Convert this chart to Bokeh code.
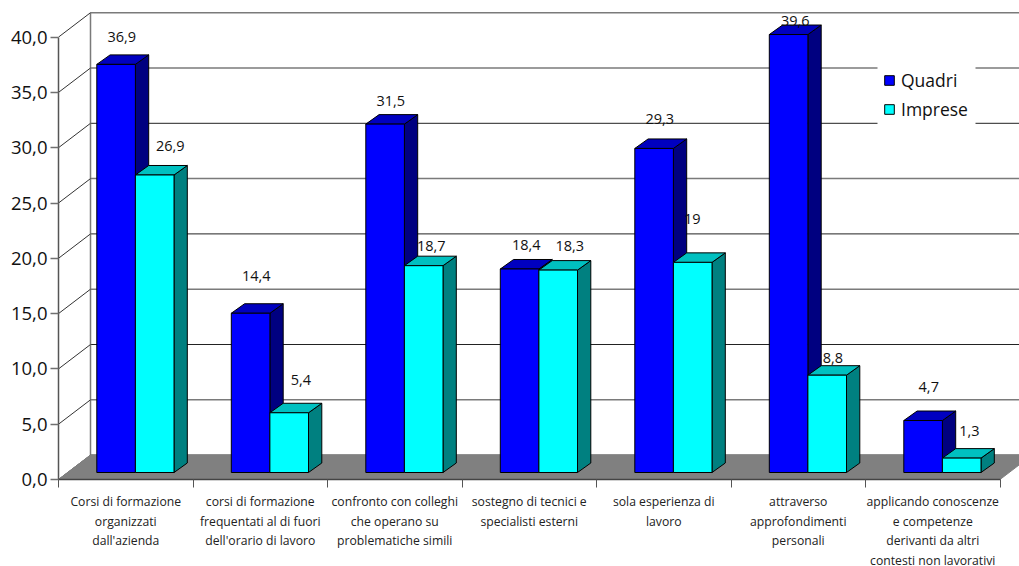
from bokeh.embed import file_html
from bokeh.models import FixedTicker, Legend, LegendItem, LinearAxis, Range1d
from bokeh.plotting import figure
from bokeh.resources import INLINE
from bokeh.core.properties import value

categories = [
    ["Corsi di formazione", "organizzati", "dall'azienda"],
    ["corsi di formazione", "frequentati al di fuori", "dell'orario di lavoro"],
    ["confronto con colleghi", "che operano su", "problematiche simili"],
    ["sostegno di tecnici e", "specialisti esterni"],
    ["sola esperienza di", "lavoro"],
    ["attraverso", "approfondimenti", "personali"],
    ["applicando conoscenze", "e competenze", "derivanti da altri", "contesti non lavorativi"],
]
quadri = [36.9, 14.4, 31.5, 18.4, 29.3, 39.6, 4.7]
imprese = [26.9, 5.4, 18.7, 18.3, 19, 8.8, 1.3]
quadri_labels = ["36,9", "14,4", "31,5", "18,4", "29,3", "39,6", "4,7"]
imprese_labels = ["26,9", "5,4", "18,7", "18,3", "19", "8,8", "1,3"]
y_ticks = [0, 5, 10, 15, 20, 25, 30, 35, 40]
y_tick_labels = ["0,0", "5,0", "10,0", "15,0", "20,0", "25,0", "30,0", "35,0", "40,0"]

# Label nudges in screen pixels (x, y above the top of the bar)
quadri_nudge = [(-1, 18), (-1, 28), (-1, 14), (0, 14), (-1, 20), (0, 4), (-1, 24)]
imprese_nudge = [(9, 19), (5, 23), (1, 10), (5, 15), (-7, 34), (-1, 8), (1, 18)]

# Oblique projection, in axis units
PX_X = 134.5
PX_Y = 11.06
WALL_DX = 32 / PX_X
WALL_DY = 24.4 / PX_Y
BAR_DX = 13.3 / PX_X
BAR_DY = 9.5 / PX_Y
BAR_BASE = 7 / PX_Y
BAR_LEFT = 38.3 / PX_X
BAR_W = 38.6 / PX_X

W, H = 1019, 566
ORIGIN_X, ORIGIN_Y = 58, 479  # screen position of the axes' crossing

# The plotting frame fills the page so that text below the axis is not clipped
p = figure(
    width=W, height=H, output_backend="svg", toolbar_location=None,
    x_range=Range1d(-ORIGIN_X / PX_X, (W - ORIGIN_X) / PX_X),
    y_range=Range1d(-(H - ORIGIN_Y) / PX_Y, ORIGIN_Y / PX_Y),
    x_axis_type=None, y_axis_type=None,
    min_border_left=0, min_border_right=0, min_border_top=0, min_border_bottom=0,
    outline_line_color=None, background_fill_color="white", border_fill_color="white",
)
p.grid.visible = False

n = len(categories)
x_end = n + WALL_DX + 0.1
top = y_ticks[-1] + WALL_DY

# Back wall lines and the side wall's diagonals
grid_colors = ["#7a7a7a", "#7a7a7a", "#222222", "#7a7a7a", "#222222", "#7a7a7a", "#222222", "#7a7a7a", "#7a7a7a"]
grid_widths = [1.5 if c == "#7a7a7a" else 1 for c in grid_colors]
p.segment([WALL_DX] * len(y_ticks), [t + WALL_DY for t in y_ticks],
          [x_end] * len(y_ticks), [t + WALL_DY for t in y_ticks],
          line_color=grid_colors, line_width=grid_widths)
p.segment([WALL_DX], [WALL_DY], [WALL_DX], [top], line_color="#7a7a7a", line_width=1.5)
p.segment([0] * len(y_ticks), y_ticks, [WALL_DX] * len(y_ticks),
          [t + WALL_DY for t in y_ticks], line_color="#333333", line_width=1)

# Floor
p.patch([0, WALL_DX, n + WALL_DX, n], [0, WALL_DY, WALL_DY, 0],
        fill_color="#808080", line_color="#808080")

# White panel behind the legend, interrupting the wall lines
p.quad(left=(877 - ORIGIN_X) / PX_X, right=(975 - ORIGIN_X) / PX_X,
       bottom=(ORIGIN_Y - 130) / PX_Y, top=(ORIGIN_Y - 60) / PX_Y,
       fill_color="white", line_color=None)


def draw_bar(left, v, front, roof, side):
    right = left + BAR_W
    up = BAR_BASE + v
    p.patch([right, right + BAR_DX, right + BAR_DX, right],
            [BAR_BASE, BAR_BASE + BAR_DY, up + BAR_DY, up],
            fill_color=side, line_color="black")
    p.patch([left, left + BAR_DX, right + BAR_DX, right],
            [up, up + BAR_DY, up + BAR_DY, up],
            fill_color=roof, line_color="black")
    return p.quad(left=left, right=right, bottom=BAR_BASE, top=up,
                  fill_color=front, line_color="black")


for i in range(n):
    x0 = i + BAR_LEFT
    r_q = draw_bar(x0, quadri[i], "#0000FF", "#0000C0", "#000080")
    r_i = draw_bar(x0 + BAR_W, imprese[i], "#00FFFF", "#00C0C0", "#008080")
    if i == 0:
        legend_q, legend_i = r_q, r_i

# Value labels above each bar
for i in range(n):
    for off, vals, texts, nudges in (
        (0, quadri, quadri_labels, quadri_nudge),
        (BAR_W, imprese, imprese_labels, imprese_nudge),
    ):
        p.text(
            [i + BAR_LEFT + off + BAR_W / 2 + BAR_DX / 2], [BAR_BASE + vals[i] + BAR_DY],
            text=[texts[i]], x_offset=nudges[i][0], y_offset=-nudges[i][1],
            text_align="center", text_baseline="middle",
            text_font=value("Open Sans"), text_font_size="14.5px", text_color="#111111",
        )

# Category names under the axis, one entry per line of text
for i, lines in enumerate(categories):
    for j, line in enumerate(lines):
        p.text([i + 0.5], [0], text=[line], y_offset=21.7 + 19.8 * j,
               text_align="center", text_baseline="middle",
               text_font=value("Open Sans"), text_font_size="12.2px", text_color="#222222")

# Axes pinned at the origin of the oblique box
yaxis = LinearAxis(
    fixed_location=0, bounds=(0, 40), ticker=FixedTicker(ticks=y_ticks),
    major_label_overrides=dict(zip(y_ticks, y_tick_labels)),
    major_label_text_font="Open Sans", major_label_text_font_size="18.5px",
    major_label_text_color="#111111", major_label_standoff=3,
    major_tick_in=0, major_tick_out=8, minor_tick_line_color=None,
    axis_line_color="#555555", axis_line_width=1.5, major_tick_line_color="#707070",
    major_tick_line_width=1.5,
)
p.add_layout(yaxis, "left")
x_ticks = list(range(n + 1))
xaxis = LinearAxis(
    fixed_location=0, bounds=(0, n), ticker=FixedTicker(ticks=x_ticks),
    major_label_overrides={t: "" for t in x_ticks}, major_tick_in=0, major_tick_out=8,
    minor_tick_line_color=None, axis_line_color="#444444", axis_line_width=1.5,
    major_tick_line_color="#555555",
)
p.add_layout(xaxis, "below")

legend = Legend(
    items=[LegendItem(label="Quadri", renderers=[legend_q]),
           LegendItem(label="Imprese", renderers=[legend_i])],
    location=(883, 445), orientation="vertical",
    background_fill_alpha=0, border_line_color=None,
    label_text_font="Open Sans", label_text_font_size="17.5px", label_text_color="#111111",
    glyph_width=12, glyph_height=12, label_standoff=6, spacing=5, padding=6, margin=0,
)
p.add_layout(legend, "center")

open("out.html", "w").write(file_html(p, INLINE))
